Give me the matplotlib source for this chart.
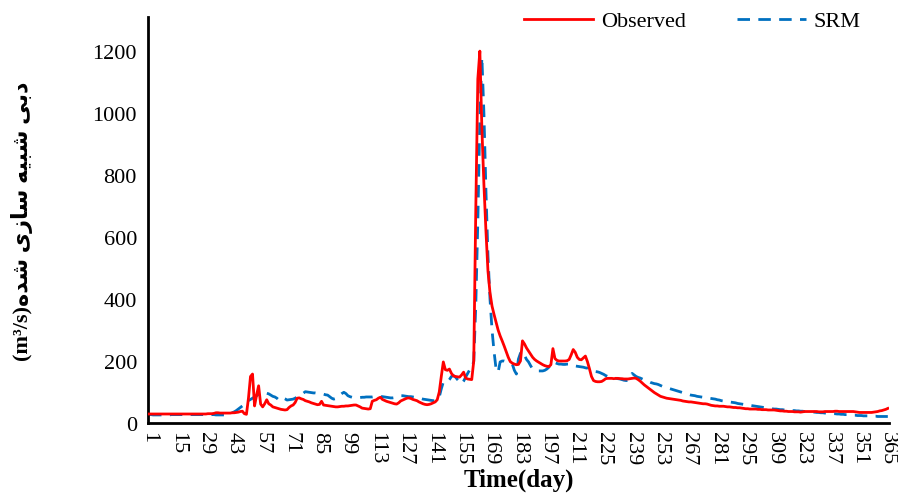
import matplotlib
matplotlib.use("Agg")
import matplotlib.pyplot as plt
import numpy as np

# ---------------- data ----------------
days = list(range(1, 366))

observed = [
    29, 29, 29, 29, 29, 29, 29, 29, 29, 29,
    29, 29, 29, 29, 29, 29, 29, 29, 29, 29,
    29, 29, 29, 29, 29, 29, 29, 29, 29, 30,
    30, 30, 31, 33, 33, 32, 32, 32, 32, 32,
    32, 33, 33, 34, 35, 37, 38, 30, 28, 80,
    150, 158, 55, 90, 120, 61, 52, 62, 75, 62,
    58, 52, 50, 48, 46, 44, 43, 42, 43, 50,
    55, 58, 66, 80, 81, 78, 76, 72, 70, 68,
    65, 63, 61, 59, 60, 70, 58, 57, 56, 55,
    54, 53, 52, 52, 53, 54, 54, 55, 55, 56,
    57, 58, 58, 55, 52, 48, 47, 46, 45, 46,
    70, 73, 75, 80, 83, 76, 73, 70, 68, 66,
    64, 62, 61, 65, 71, 74, 77, 80, 81, 79,
    76, 74, 72, 68, 65, 62, 60, 59, 60, 62,
    65, 68, 75, 100, 150, 197, 172, 170, 174, 160,
    152, 150, 149, 148, 155, 164, 145, 142, 141, 140,
    200, 690, 1110, 1200, 950, 770, 620, 490, 420, 377,
    350, 325, 300, 281, 265, 248, 230, 212, 198, 193,
    190, 188, 189, 200, 265, 255, 242, 232, 222, 212,
    205, 200, 196, 192, 188, 185, 183, 182, 188, 240,
    208, 202, 200, 200, 200, 200, 201, 205, 220, 237,
    228, 212, 205, 204, 210, 216, 198, 175, 150, 137,
    134, 133, 133, 134, 138, 143, 144, 144, 144, 143,
    144, 144, 143, 143, 142, 142, 142, 143, 144, 145,
    144, 140, 135, 129, 123, 118, 113, 108, 103, 98,
    94, 90, 86, 84, 82, 80, 79, 78, 77, 76,
    75, 74, 73, 71, 70, 69, 68, 68, 67, 66,
    65, 64, 63, 62, 62, 61, 59, 57, 56, 55,
    55, 54, 54, 54, 53, 52, 52, 51, 50, 50,
    49, 49, 48, 47, 46, 46, 45, 45, 45, 45,
    44, 44, 43, 43, 43, 42, 42, 42, 42, 41,
    40, 39, 39, 38, 38, 37, 37, 37, 36, 36,
    36, 35, 36, 37, 37, 37, 37, 37, 37, 37,
    36, 36, 36, 37, 37, 37, 37, 37, 38, 38,
    37, 37, 37, 37, 37, 37, 37, 37, 36, 35,
    34, 34, 34, 34, 34, 34, 34, 35, 36, 37,
    39, 40, 42, 44, 47,
]

srm = [
    27, 27, 26, 26, 26, 26, 26, 26, 26, 26,
    26, 27, 27, 27, 27, 27, 27, 27, 27, 27,
    27, 27, 27, 27, 27, 27, 27, 27, 27, 27,
    27, 27, 27, 26, 26, 26, 26, 26, 27, 28,
    30, 33, 36, 40, 45, 50, 55, 60, 66, 72,
    76, 80, 84, 88, 92, 96, 100, 98, 96, 94,
    90, 86, 84, 80, 74, 75, 81, 78, 74, 75,
    76, 77, 80, 84, 88, 92, 96, 101, 100, 99,
    98, 97, 97, 96, 95, 94, 93, 91, 90, 85,
    80, 77, 79, 84, 90, 95, 99, 95, 88, 85,
    83, 82, 81, 81, 82, 83, 83, 84, 84, 84,
    84, 85, 85, 85, 85, 85, 84, 83, 82, 81,
    81, 82, 84, 86, 88, 88, 87, 86, 85, 85,
    84, 83, 82, 80, 79, 77, 76, 75, 74, 73,
    72, 72, 75, 84, 110, 132, 133, 132, 140, 150,
    153, 148, 140, 133, 126, 135, 148, 160, 172, 174,
    200, 380, 650, 980, 1180, 1000, 750, 540, 400, 300,
    230, 174, 164, 197, 200, 200, 198, 195, 192, 190,
    170, 158, 206, 225, 232, 218, 205, 197, 185, 174,
    172, 170, 168, 168, 168, 170, 174, 180, 190, 197,
    195, 192, 190, 190, 189, 189, 190, 190, 189, 188,
    184, 183, 182, 181, 180, 178, 177, 172, 170, 168,
    166, 165, 163, 160, 157, 153, 150, 148, 146, 145,
    144, 143, 142, 140, 138, 137, 137, 145, 160, 155,
    150, 147, 145, 142, 139, 136, 134, 131, 129, 127,
    126, 124, 121, 118, 116, 114, 112, 110, 108, 106,
    104, 102, 100, 98, 96, 94, 92, 90, 89, 88,
    86, 85, 84, 83, 82, 81, 80, 79, 78, 77,
    75, 74, 72, 71, 70, 69, 68, 67, 66, 65,
    63, 62, 61, 60, 59, 58, 57, 56, 55, 54,
    53, 52, 51, 50, 49, 48, 47, 46, 45, 45,
    44, 43, 43, 42, 41, 41, 40, 40, 40, 39,
    39, 38, 38, 37, 37, 36, 36, 35, 35, 34,
    34, 33, 33, 32, 32, 31, 31, 30, 30, 29,
    29, 28, 28, 27, 27, 26, 26, 25, 25, 24,
    24, 24, 23, 23, 23, 22, 22, 22, 22, 21,
    21, 21, 21, 21, 21,
]

x_ticks = list(range(1, 366, 14))
y_ticks = [0, 200, 400, 600, 800, 1000, 1200]
series_labels = ["Observed", "SRM"]
x_label = "Time(day)"
# Persian label "دبی شبیه سازی شده(m³/s)" written with Arabic presentation forms
# in visual order, because matplotlib does no Arabic shaping / bidi.
y_label = ("(m\u00b3/s)"
           "\uFEE9\uFEAA\uFEB7" + " "
           "\uFEEF\uFEAF\uFE8E\uFEB3" + " "
           "\uFEEA\uFEF4\uFE92\uFEB7" + " "
           "\uFEF0\uFE91\uFEA9")

assert len(observed) == 365 and len(srm) == 365

# ---------------- figure ----------------
plt.rcParams['font.family'] = ['Liberation Serif', 'DejaVu Sans']
plt.rcParams['lines.scale_dashes'] = False

fig = plt.figure(figsize=(8.98, 5.02), dpi=100)
ax = fig.add_axes([0.1648, 0.1554, 0.825, 0.8087])

ax.plot(days, observed, color="#FF0000", lw=2.0, label=series_labels[0],
        solid_joinstyle='round', zorder=3)
ax.plot(days, srm, color="#0070C0", lw=2.0, dashes=(9, 6),
        label=series_labels[1], zorder=2)

ax.set_xlim(0.5, 365.5)
ax.set_ylim(0, 1310)
ax.set_yticks(y_ticks)
ax.set_xticks(x_ticks)
ax.set_xticklabels([str(t) for t in x_ticks], rotation=270, ha='center', va='top')
ax.tick_params(axis='both', length=0, labelsize=16)
ax.tick_params(axis='y', pad=8)
ax.tick_params(axis='x', pad=6)

for s in ['top', 'right']:
    ax.spines[s].set_visible(False)
for s in ['left', 'bottom']:
    ax.spines[s].set_linewidth(2.0)
    ax.spines[s].set_color('black')

ax.set_xlabel(x_label, fontsize=18, fontweight='bold', labelpad=2)
ax.set_ylabel(y_label, fontsize=16, fontweight='bold',
              family=['Liberation Serif', 'DejaVu Sans'])
ax.yaxis.set_label_coords(-0.155, 0.5)

fig.legend(loc='center', bbox_to_anchor=(0.771, 0.956), ncol=2, frameon=False,
           fontsize=16, handlelength=3.1, handletextpad=0.36, columnspacing=2.3)

fig.savefig("out.png", dpi=100)
